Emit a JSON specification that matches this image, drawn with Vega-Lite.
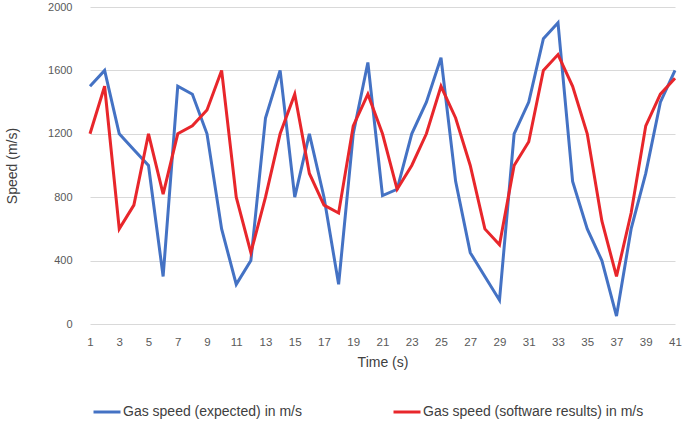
{
  "$schema": "https://vega.github.io/schema/vega-lite/v6.json",
  "width": 585,
  "height": 317,
  "autosize": {"type": "none"},
  "padding": {"left": 90, "top": 7, "right": 10, "bottom": 97},
  "background": "white",
  "config": {"view": {"stroke": null}, "font": "Liberation Sans"},
  "datasets": {
    "d": [
      {"t":1,"s":"Gas speed (expected) in m/s","v":1500},
      {"t":2,"s":"Gas speed (expected) in m/s","v":1600},
      {"t":3,"s":"Gas speed (expected) in m/s","v":1200},
      {"t":4,"s":"Gas speed (expected) in m/s","v":1100},
      {"t":5,"s":"Gas speed (expected) in m/s","v":1000},
      {"t":6,"s":"Gas speed (expected) in m/s","v":300},
      {"t":7,"s":"Gas speed (expected) in m/s","v":1500},
      {"t":8,"s":"Gas speed (expected) in m/s","v":1450},
      {"t":9,"s":"Gas speed (expected) in m/s","v":1200},
      {"t":10,"s":"Gas speed (expected) in m/s","v":600},
      {"t":11,"s":"Gas speed (expected) in m/s","v":250},
      {"t":12,"s":"Gas speed (expected) in m/s","v":400},
      {"t":13,"s":"Gas speed (expected) in m/s","v":1300},
      {"t":14,"s":"Gas speed (expected) in m/s","v":1600},
      {"t":15,"s":"Gas speed (expected) in m/s","v":800},
      {"t":16,"s":"Gas speed (expected) in m/s","v":1200},
      {"t":17,"s":"Gas speed (expected) in m/s","v":800},
      {"t":18,"s":"Gas speed (expected) in m/s","v":250},
      {"t":19,"s":"Gas speed (expected) in m/s","v":1200},
      {"t":20,"s":"Gas speed (expected) in m/s","v":1650},
      {"t":21,"s":"Gas speed (expected) in m/s","v":810},
      {"t":22,"s":"Gas speed (expected) in m/s","v":850},
      {"t":23,"s":"Gas speed (expected) in m/s","v":1200},
      {"t":24,"s":"Gas speed (expected) in m/s","v":1400},
      {"t":25,"s":"Gas speed (expected) in m/s","v":1680},
      {"t":26,"s":"Gas speed (expected) in m/s","v":900},
      {"t":27,"s":"Gas speed (expected) in m/s","v":450},
      {"t":28,"s":"Gas speed (expected) in m/s","v":300},
      {"t":29,"s":"Gas speed (expected) in m/s","v":150},
      {"t":30,"s":"Gas speed (expected) in m/s","v":1200},
      {"t":31,"s":"Gas speed (expected) in m/s","v":1400},
      {"t":32,"s":"Gas speed (expected) in m/s","v":1800},
      {"t":33,"s":"Gas speed (expected) in m/s","v":1900},
      {"t":34,"s":"Gas speed (expected) in m/s","v":900},
      {"t":35,"s":"Gas speed (expected) in m/s","v":600},
      {"t":36,"s":"Gas speed (expected) in m/s","v":400},
      {"t":37,"s":"Gas speed (expected) in m/s","v":50},
      {"t":38,"s":"Gas speed (expected) in m/s","v":600},
      {"t":39,"s":"Gas speed (expected) in m/s","v":950},
      {"t":40,"s":"Gas speed (expected) in m/s","v":1400},
      {"t":41,"s":"Gas speed (expected) in m/s","v":1600},
      {"t":1,"s":"Gas speed (software results) in m/s","v":1200},
      {"t":2,"s":"Gas speed (software results) in m/s","v":1500},
      {"t":3,"s":"Gas speed (software results) in m/s","v":600},
      {"t":4,"s":"Gas speed (software results) in m/s","v":750},
      {"t":5,"s":"Gas speed (software results) in m/s","v":1200},
      {"t":6,"s":"Gas speed (software results) in m/s","v":820},
      {"t":7,"s":"Gas speed (software results) in m/s","v":1200},
      {"t":8,"s":"Gas speed (software results) in m/s","v":1250},
      {"t":9,"s":"Gas speed (software results) in m/s","v":1350},
      {"t":10,"s":"Gas speed (software results) in m/s","v":1600},
      {"t":11,"s":"Gas speed (software results) in m/s","v":800},
      {"t":12,"s":"Gas speed (software results) in m/s","v":450},
      {"t":13,"s":"Gas speed (software results) in m/s","v":800},
      {"t":14,"s":"Gas speed (software results) in m/s","v":1200},
      {"t":15,"s":"Gas speed (software results) in m/s","v":1450},
      {"t":16,"s":"Gas speed (software results) in m/s","v":950},
      {"t":17,"s":"Gas speed (software results) in m/s","v":750},
      {"t":18,"s":"Gas speed (software results) in m/s","v":700},
      {"t":19,"s":"Gas speed (software results) in m/s","v":1250},
      {"t":20,"s":"Gas speed (software results) in m/s","v":1450},
      {"t":21,"s":"Gas speed (software results) in m/s","v":1200},
      {"t":22,"s":"Gas speed (software results) in m/s","v":850},
      {"t":23,"s":"Gas speed (software results) in m/s","v":1000},
      {"t":24,"s":"Gas speed (software results) in m/s","v":1200},
      {"t":25,"s":"Gas speed (software results) in m/s","v":1500},
      {"t":26,"s":"Gas speed (software results) in m/s","v":1300},
      {"t":27,"s":"Gas speed (software results) in m/s","v":1000},
      {"t":28,"s":"Gas speed (software results) in m/s","v":600},
      {"t":29,"s":"Gas speed (software results) in m/s","v":500},
      {"t":30,"s":"Gas speed (software results) in m/s","v":1000},
      {"t":31,"s":"Gas speed (software results) in m/s","v":1150},
      {"t":32,"s":"Gas speed (software results) in m/s","v":1600},
      {"t":33,"s":"Gas speed (software results) in m/s","v":1700},
      {"t":34,"s":"Gas speed (software results) in m/s","v":1500},
      {"t":35,"s":"Gas speed (software results) in m/s","v":1200},
      {"t":36,"s":"Gas speed (software results) in m/s","v":650},
      {"t":37,"s":"Gas speed (software results) in m/s","v":300},
      {"t":38,"s":"Gas speed (software results) in m/s","v":700},
      {"t":39,"s":"Gas speed (software results) in m/s","v":1250},
      {"t":40,"s":"Gas speed (software results) in m/s","v":1450},
      {"t":41,"s":"Gas speed (software results) in m/s","v":1550}
    ]
  },
  "data": {"name": "d"},
  "mark": {"type": "line", "strokeWidth": 3, "strokeJoin": "miter"},
  "encoding": {
    "x": {
      "field": "t", "type": "quantitative",
      "scale": {"domain": [1, 41], "nice": false, "zero": false},
      "axis": {
        "title": "Time (s)", "titleFontSize": 14, "titleFontWeight": "normal", "titleColor": "#404040", "titlePadding": 8,
        "values": [1,3,5,7,9,11,13,15,17,19,21,23,25,27,29,31,33,35,37,39,41],
        "grid": false, "domain": false, "ticks": false,
        "labelFontSize": 11.5, "labelColor": "#595959", "labelPadding": 12, "labelFlush": false
      }
    },
    "y": {
      "field": "v", "type": "quantitative",
      "scale": {"domain": [0, 2000], "nice": false},
      "axis": {
        "title": "Speed (m/s)", "titleFontSize": 14, "titleFontWeight": "normal", "titleColor": "#404040", "titlePadding": 28,
        "values": [0,400,800,1200,1600,2000], "format": "d",
        "grid": true, "gridColor": "#d9d9d9", "gridWidth": 1,
        "domain": false, "ticks": false,
        "labelFontSize": 11, "labelColor": "#595959", "labelPadding": 18
      }
    },
    "color": {
      "field": "s", "type": "nominal",
      "scale": {"domain": ["Gas speed (expected) in m/s", "Gas speed (software results) in m/s"], "range": ["#4472C4", "#E8262B"]},
      "legend": {
        "title": null, "orient": "none", "direction": "horizontal",
        "legendX": 2, "legendY": 390,
        "symbolType": "stroke", "symbolStrokeWidth": 3, "symbolSize": 729,
        "labelFontSize": 14, "labelColor": "#404040", "labelOffset": 1, "labelLimit": 0,
        "columnPadding": 85
      }
    }
  }
}
